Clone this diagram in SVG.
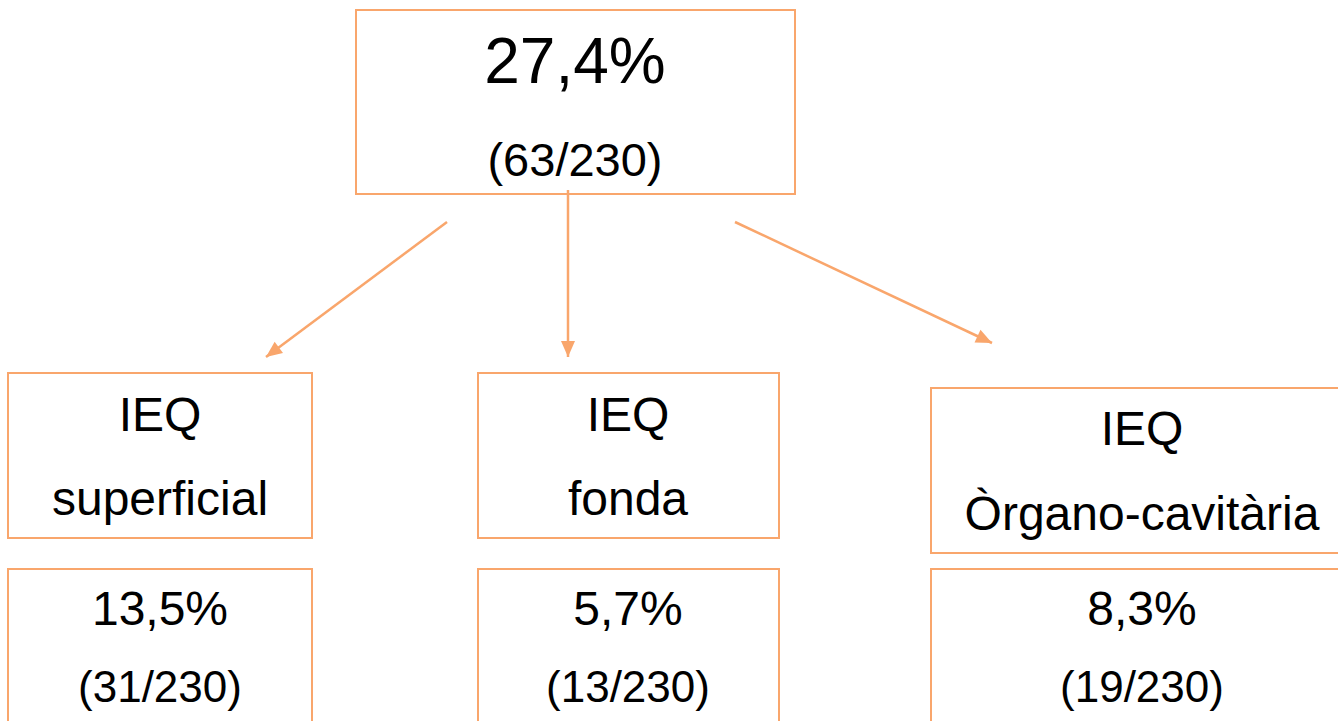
<svg xmlns="http://www.w3.org/2000/svg" width="1338" height="721" viewBox="0 0 1338 721">
<style>
.box{fill:#fff;stroke:#F9A66C;stroke-width:2}
.c{stroke:#F9A66C;stroke-width:2.5;fill:none}
text{font-family:"Liberation Sans",Arial,sans-serif;fill:#000;text-anchor:middle}
.t{font-size:48px}
.f{font-size:44px}
.tf{font-size:47px}
.big{font-size:64px}
</style>
<defs>
<marker id="ah" markerUnits="userSpaceOnUse" markerWidth="20" markerHeight="20" viewBox="0 0 20 20" refX="18" refY="10" orient="auto">
<path d="M2,3 L18,10 L2,17 Z" fill="#F9A66C"/>
</marker>
</defs>
<rect width="1338" height="721" fill="#fff"/>
<g id="top">
<rect class="box" x="356" y="10" width="439" height="184"/>
<text class="big" x="575" y="83">27,4%</text>
<text class="tf" x="575" y="176">(63/230)</text>
</g>
<g id="connectors">
<line class="c" x1="447" y1="222" x2="266" y2="357" marker-end="url(#ah)"/>
<line class="c" x1="568" y1="190" x2="568" y2="357" marker-end="url(#ah)"/>
<line class="c" x1="735" y1="222" x2="992" y2="343" marker-end="url(#ah)"/>
</g>
<g id="superficial">
<rect class="box" x="8" y="373" width="304" height="165"/>
<text class="t" x="160" y="431">IEQ</text>
<text class="t" x="160" y="515">superficial</text>
</g>
<g id="superficial-val">
<rect class="box" x="8" y="569" width="304" height="170"/>
<text class="t" x="160" y="625">13,5%</text>
<text class="f" x="160" y="702">(31/230)</text>
</g>
<g id="fonda">
<rect class="box" x="478" y="373" width="301" height="165"/>
<text class="t" x="628" y="431">IEQ</text>
<text class="t" x="628" y="515">fonda</text>
</g>
<g id="fonda-val">
<rect class="box" x="478" y="569" width="301" height="170"/>
<text class="t" x="628" y="625">5,7%</text>
<text class="f" x="628" y="702">(13/230)</text>
</g>
<g id="organo">
<rect class="box" x="931" y="388" width="420" height="165"/>
<text class="t" x="1142" y="445">IEQ</text>
<text class="t" x="1142" y="530">Òrgano-cavitària</text>
</g>
<g id="organo-val">
<rect class="box" x="931" y="569" width="420" height="170"/>
<text class="t" x="1142" y="625">8,3%</text>
<text class="f" x="1142" y="702">(19/230)</text>
</g>
</svg>
